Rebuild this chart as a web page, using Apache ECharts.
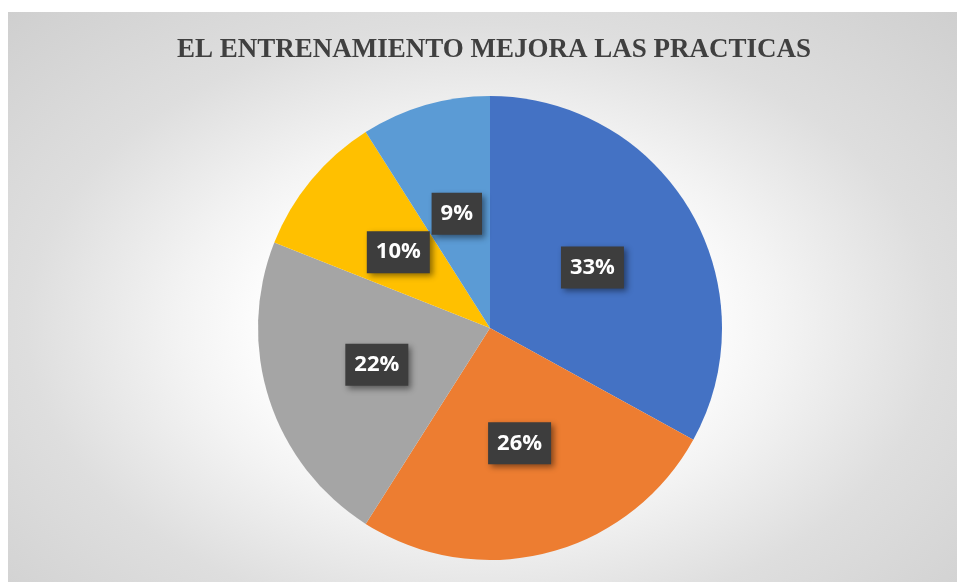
<!DOCTYPE html>
<html>
<head>
<meta charset="utf-8">
<script src="https://cdn.jsdelivr.net/npm/echarts@6/dist/echarts.min.js"></script>
<style>
  html, body { margin: 0; padding: 0; background: #fff; }
  #chart {
    position: absolute; left: 8px; top: 12px; width: 949px; height: 570px;
    background: radial-gradient(ellipse farthest-corner at 50% 55%,
      #ffffff 0%, #ffffff 30%, #f3f3f3 45%, #dedede 68%, #cfcfcf 100%);
  }
</style>
</head>
<body>
<div id="chart"></div>
<script>
const TITLE = 'EL ENTRENAMIENTO MEJORA LAS PRACTICAS';
const CATEGORIES = ['A', 'B', 'C', 'D', 'E'];
const VALUES = [33, 26, 22, 10, 9];
const COLORS = ['#4472C4', '#ED7D31', '#A5A5A5', '#FFC000', '#5B9BD5'];

const chart = echarts.init(document.getElementById('chart'), null, { renderer: 'canvas' });

chart.setOption({
  animation: false,
  backgroundColor: 'transparent',
  title: {
    text: TITLE,
    left: 481,
    top: 20,
    textAlign: 'center',
    textStyle: {
      fontFamily: 'Liberation Serif',
      fontWeight: 'bold',
      fontSize: 27,
      color: '#404040',
    },
  },
  series: [{
    type: 'pie',
    center: [482, 316],
    radius: 232,
    startAngle: 90,
    clockwise: true,
    data: CATEGORIES.map((c, i) => ({
      name: c,
      value: VALUES[i],
      itemStyle: { color: COLORS[i] },
    })),
    itemStyle: { borderWidth: 0 },
    label: {
      position: 'inside',
      formatter: (p) => p.value + '%',
      fontFamily: 'Open Sans',
      fontWeight: 'bold',
      fontSize: 22,
      lineHeight: 24,
      color: '#ffffff',
      backgroundColor: '#3d3d3d',
      padding: [9, 9, 9, 9],
      shadowColor: 'rgba(0,0,0,0.45)',
      shadowBlur: 6,
      shadowOffsetX: 3,
      shadowOffsetY: 3,
    },
    labelLine: { show: false },
    emphasis: { disabled: true },
  }],
});
</script>
</body>
</html>
